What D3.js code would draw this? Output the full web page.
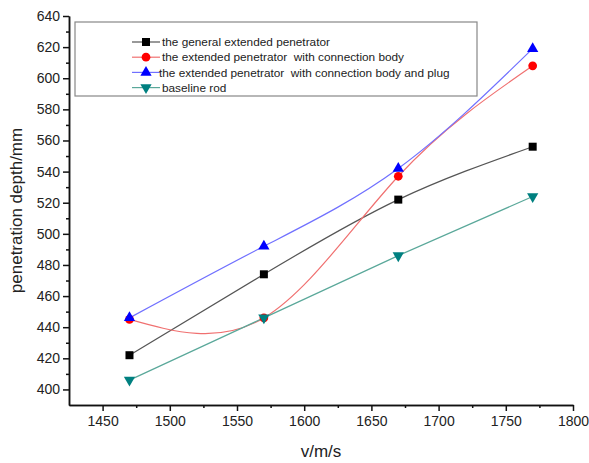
<!DOCTYPE html>
<html>
<head>
<meta charset="utf-8">
<script src="https://cdn.jsdelivr.net/npm/d3@7"></script>
<style>
  body { margin: 0; background: #fff; }
  text { font-family: "Liberation Sans", Arial, sans-serif; fill: #222; white-space: pre; }
</style>
</head>
<body>
<div id="chart"></div>
<script>
// data
var speeds = [1470, 1570, 1670, 1770];
var general = [422, 474, 522, 556];
var withBody = [445, 446, 537, 608];
var withPlug = [446, 492, 542, 619];
var baseline = [406, 446, 486, 524];
var seriesNames = ["the general extended penetrator",
                   "the extended penetrator  with connection body",
                   "the extended penetrator  with connection body and plug",
                   "baseline rod"];
var xTicks = [1450, 1500, 1550, 1600, 1650, 1700, 1750, 1800];
var yTicks = [400, 420, 440, 460, 480, 500, 520, 540, 560, 580, 600, 620, 640];

var svgWidth = 589, svgHeight = 463;
var padL = 69, padR = 573, padT = 16, padB = 405;

var svg = d3.select("#chart").append("svg")
  .attr("width", svgWidth).attr("height", svgHeight);

var x = d3.scaleLinear().domain([1425, 1800]).range([padL, padR]);
var y = d3.scaleLinear().domain([390, 640]).range([padB, padT]);

// axes
var xAxis = d3.axisBottom(x).tickValues(xTicks).tickFormat(d3.format("d")).tickSize(6).tickPadding(5).tickSizeOuter(0);
var xMinor = d3.axisBottom(x).tickValues(d3.range(1475, 1800, 50)).tickSize(3).tickFormat("").tickSizeOuter(0);
var yAxis = d3.axisLeft(y).tickValues(yTicks).tickFormat(d3.format("d")).tickSize(6).tickPadding(3).tickSizeOuter(0);
var yMinor = d3.axisLeft(y).tickValues(d3.range(410, 640, 20)).tickSize(3).tickFormat("").tickSizeOuter(0);

function styleAxis(g) {
  g.selectAll("path, line").attr("stroke", "#111").attr("stroke-width", 1.5);
  g.selectAll("text").style("font-size", "14px").attr("fill", "#222");
}

svg.append("g").attr("transform", "translate(0," + padB + ")").call(xMinor).call(styleAxis);
svg.append("g").attr("transform", "translate(0," + padB + ")").call(xAxis).call(styleAxis);
svg.append("g").attr("transform", "translate(" + padL + ",0)").call(yMinor).call(styleAxis);
svg.append("g").attr("transform", "translate(" + padL + ",0)").call(yAxis).call(styleAxis);

svg.append("text")
  .attr("x", (padL + padR) / 2).attr("y", 457)
  .attr("text-anchor", "middle").style("font-size", "17px")
  .text("v/m/s");
svg.append("text")
  .attr("transform", "translate(22," + ((padT + padB) / 2) + ") rotate(-90)")
  .attr("text-anchor", "middle").style("font-size", "17px")
  .text("penetration depth/mm");

// series
var series = [
  { vals: general, line: "#555", fill: "#000", sym: d3.symbolSquare, curve: d3.curveNatural, size: 64, rot: 0 },
  { vals: withBody, line: "#f07070", fill: "#ff0000", sym: d3.symbolCircle, curve: d3.curveNatural, size: 60, rot: 0 },
  { vals: withPlug, line: "#7070ff", fill: "#0000ff", sym: d3.symbolTriangle, curve: d3.curveNatural, size: 55, rot: 0 },
  { vals: baseline, line: "#5aa89a", fill: "#008080", sym: d3.symbolTriangle, curve: d3.curveLinear, size: 55, rot: 180 }
];

series.forEach(function(s) {
  var pts = speeds.map(function(v, i) { return [v, s.vals[i]]; });
  var line = d3.line().x(function(d) { return x(d[0]); }).y(function(d) { return y(d[1]); }).curve(s.curve);
  svg.append("path").attr("d", line(pts))
    .attr("fill", "none").attr("stroke", s.line).attr("stroke-width", 1.2);
});

series.forEach(function(s) {
  var pts = speeds.map(function(v, i) { return [v, s.vals[i]]; });
  svg.selectAll(null).data(pts).enter().append("path")
    .attr("d", d3.symbol().type(s.sym).size(s.size))
    .attr("transform", function(d) { return "translate(" + x(d[0]) + "," + y(d[1]) + ") rotate(" + s.rot + ")"; })
    .attr("fill", s.fill);
});

// legend
svg.append("rect")
  .attr("x", 75).attr("y", 22).attr("width", 402).attr("height", 74)
  .attr("fill", "#fff").attr("stroke", "#888").attr("stroke-width", 1.2);

series.forEach(function(s, i) {
  var ly = 42 + i * 15.2;
  svg.append("line")
    .attr("x1", 132).attr("x2", 160).attr("y1", ly).attr("y2", ly)
    .attr("stroke", s.line).attr("stroke-width", 1.2);
  svg.append("path")
    .attr("d", d3.symbol().type(s.sym).size(s.size))
    .attr("transform", "translate(146," + ly + ") rotate(" + s.rot + ")")
    .attr("fill", s.fill);
  svg.append("text")
    .attr("x", i == 2 ? 159 : 162).attr("y", ly).attr("dy", ".35em")
    .style("font-size", "11.8px")
    .text(seriesNames[i]);
});
</script>
</body>
</html>
